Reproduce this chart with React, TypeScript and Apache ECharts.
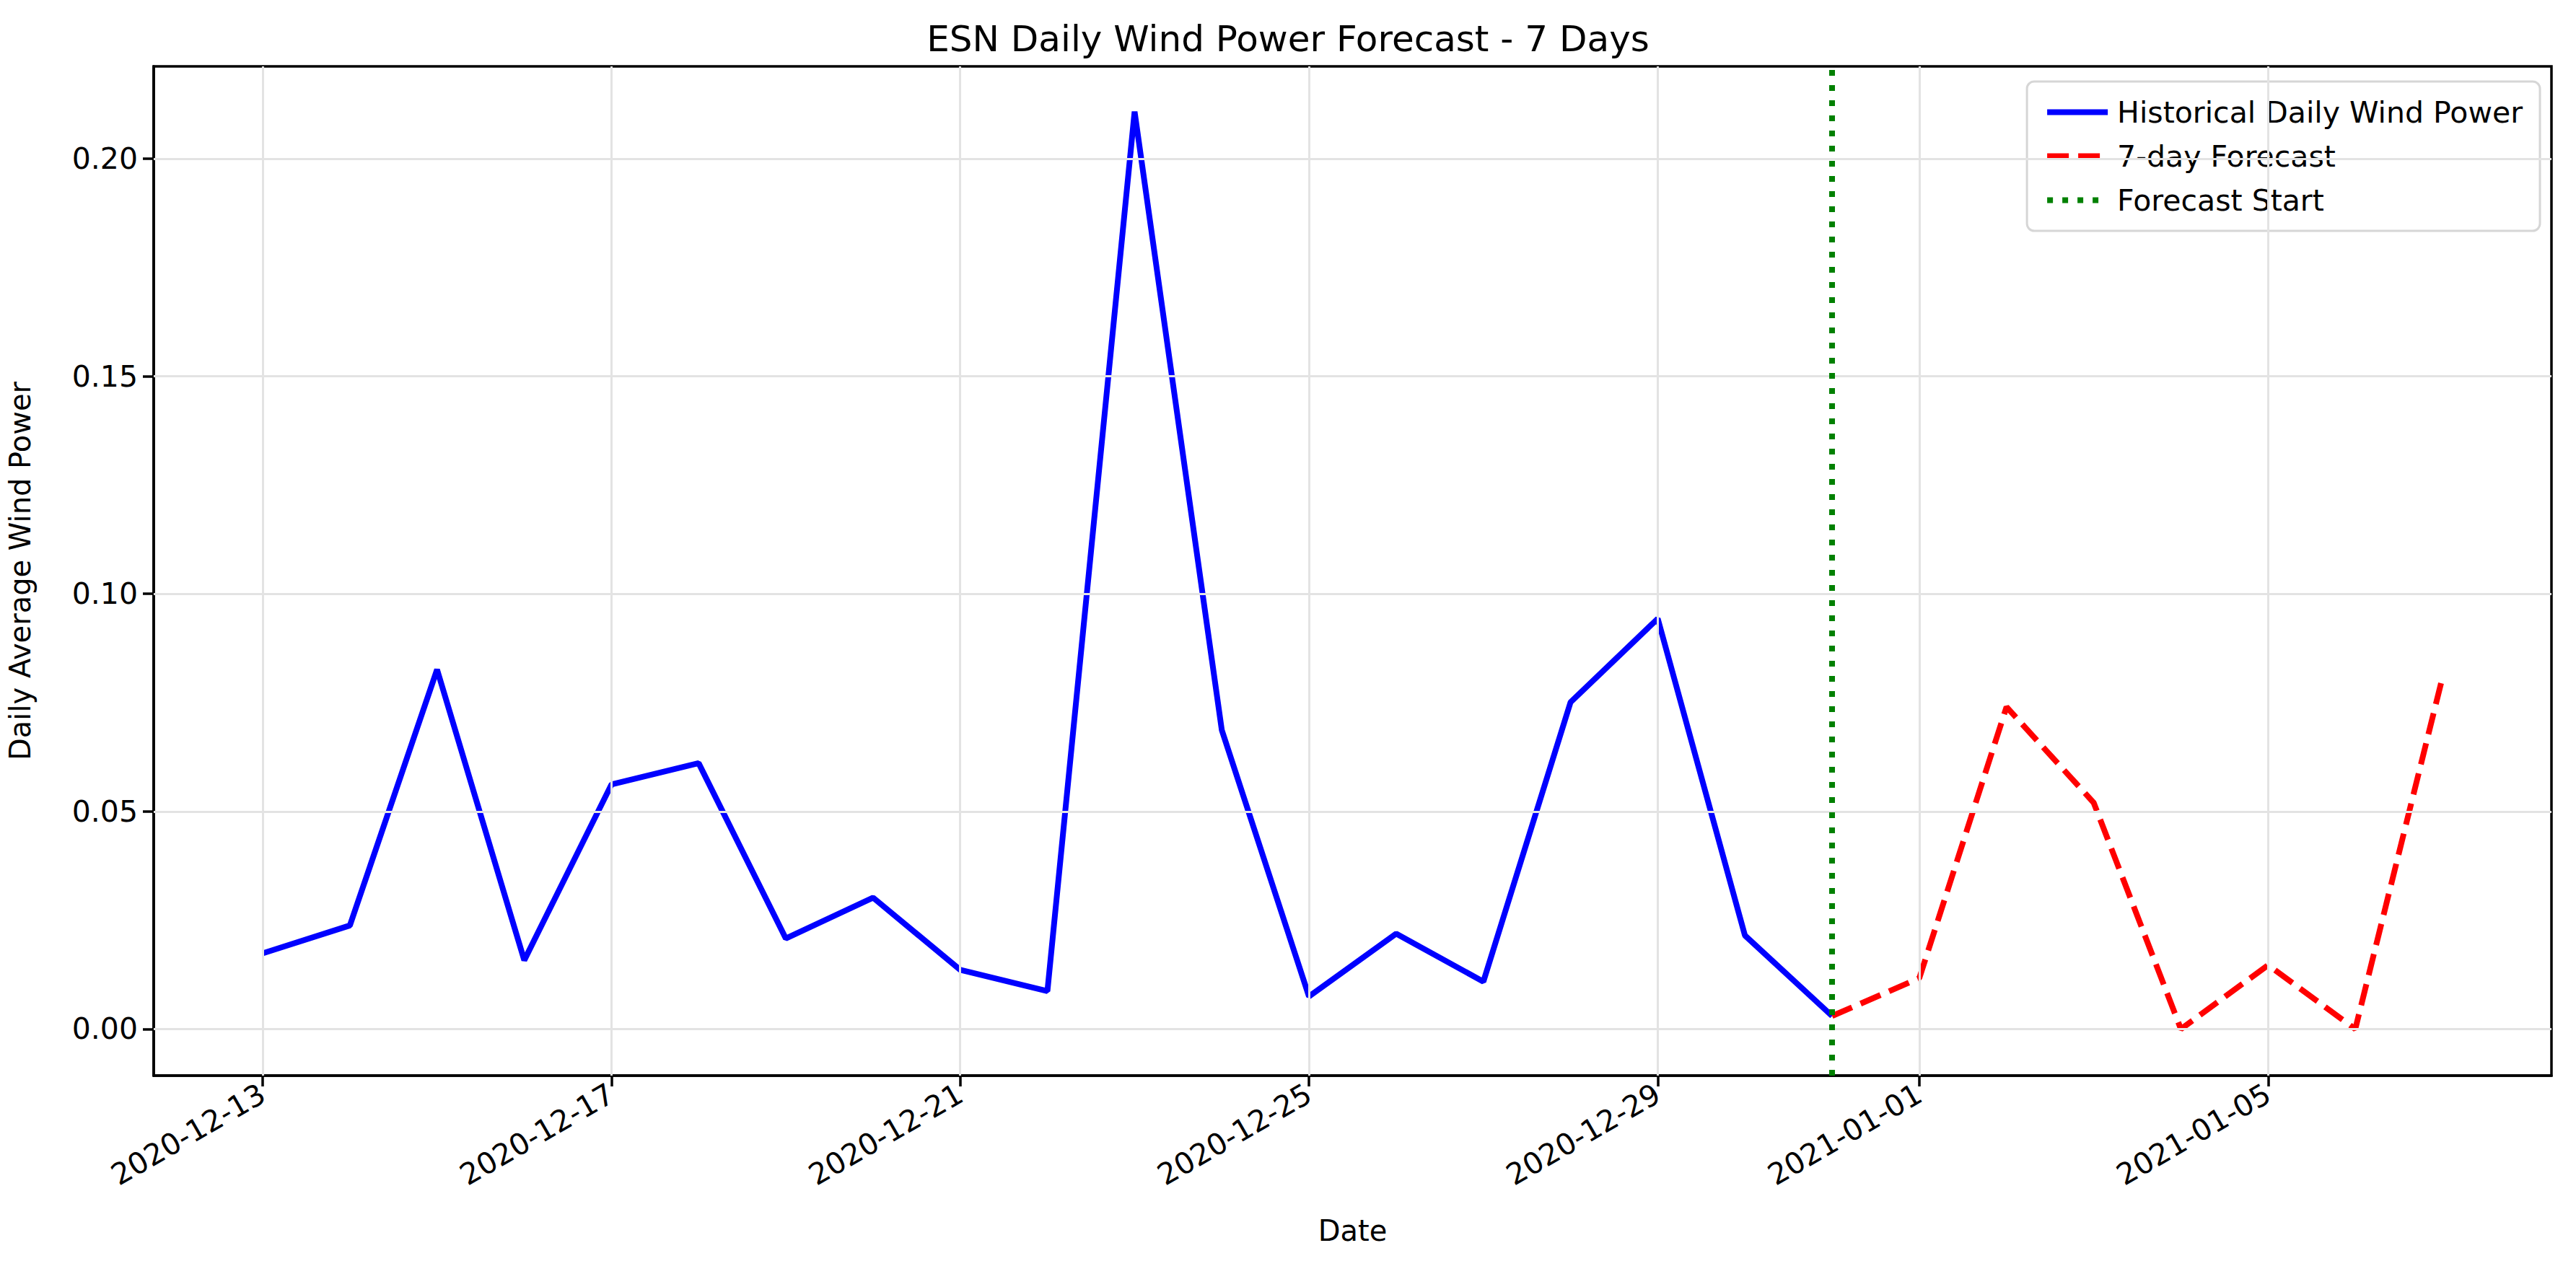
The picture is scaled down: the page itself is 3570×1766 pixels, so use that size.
import React, { useEffect, useRef } from "react";
import * as echarts from "echarts";

const histDates = ["2020-12-13","2020-12-14","2020-12-15","2020-12-16","2020-12-17","2020-12-18","2020-12-19","2020-12-20","2020-12-21","2020-12-22","2020-12-23","2020-12-24","2020-12-25","2020-12-26","2020-12-27","2020-12-28","2020-12-29","2020-12-30","2020-12-31"];
const histValues = [0.0174,0.0238,0.0826,0.0158,0.0562,0.0611,0.0208,0.0302,0.0136,0.0087,0.2108,0.0687,0.0075,0.0219,0.0109,0.0751,0.0943,0.0215,0.0030];
const fcDates = ["2020-12-31","2021-01-01","2021-01-02","2021-01-03","2021-01-04","2021-01-05","2021-01-06","2021-01-07"];
const fcValues = [0.0030,0.0117,0.0740,0.0520,0.0000,0.0147,0.0000,0.0808];
const forecastStart = "2020-12-31";
const xTickDates = ["2020-12-13","2020-12-17","2020-12-21","2020-12-25","2020-12-29","2021-01-01","2021-01-05"];
const yTicks = [0, 0.05, 0.1, 0.15, 0.2];

const BASE = Date.UTC(2020, 11, 13);
const dayIdx = (d: string) => {
  const [y, m, dd] = d.split("-").map(Number);
  return (Date.UTC(y, m - 1, dd) - BASE) / 86400000;
};
const idxLabel = (v: number) => {
  const t = new Date(BASE + Math.round(v) * 86400000);
  const p = (n: number) => String(n).padStart(2, "0");
  return `${t.getUTCFullYear()}-${p(t.getUTCMonth() + 1)}-${p(t.getUTCDate())}`;
};

const FONT = "DejaVu Sans";

export default function App() {
  const ref = useRef<HTMLDivElement>(null);
  useEffect(() => {
    const chart = echarts.init(ref.current!, null, { renderer: "svg" });
    const xTicks = xTickDates.map(dayIdx);
    const gridStyle = { color: "#e3e3e3", width: 3, type: "solid" as const };
    chart.setOption({
      animation: false,
      backgroundColor: "#fff",
      title: {
        text: "ESN Daily Wind Power Forecast - 7 Days",
        left: "center",
        top: 24,
        textStyle: { fontFamily: FONT, fontSize: 50, fontWeight: "normal", color: "#000" },
      },
      grid: { left: 211, right: 34, top: 92, bottom: 275, show: true, borderColor: "#000", borderWidth: 3.5, backgroundColor: "transparent" },
      legend: {
        orient: "vertical",
        right: 50,
        top: 113,
        itemWidth: 84,
        itemHeight: 20,
        itemGap: 20,
        padding: [22, 24, 22, 24],
        borderColor: "#d6d6d6",
        borderWidth: 3,
        borderRadius: 10,
        backgroundColor: "rgba(255,255,255,0.8)",
        itemStyle: { opacity: 0 },
        lineStyle: { width: 8 },
        textStyle: { fontFamily: FONT, fontSize: 41, color: "#000", padding: [0, 0, 0, 8] },
        data: ["Historical Daily Wind Power", "7-day Forecast", "Forecast Start"],
      },
      xAxis: {
        type: "value",
        min: -1.25,
        max: 26.25,
        name: "Date",
        nameLocation: "middle",
        nameGap: 195,
        nameTextStyle: { fontFamily: FONT, fontSize: 40, color: "#000" },
        axisLine: { onZero: false, lineStyle: { color: "#000", width: 3.5 } },
        axisTick: { show: true, customValues: xTicks, length: 15, lineStyle: { color: "#000", width: 3.5 } },
        axisLabel: {
          customValues: xTicks,
          rotate: 30,
          margin: 22,
          fontFamily: FONT,
          fontSize: 41,
          color: "#000",
          formatter: (v: number) => idxLabel(v),
        },
        splitLine: { show: false },
      },
      yAxis: {
        type: "value",
        min: -0.0107,
        max: 0.2212,
        name: "Daily Average Wind Power",
        nameLocation: "middle",
        nameGap: 165,
        nameTextStyle: { fontFamily: FONT, fontSize: 40, color: "#000" },
        axisLine: { show: true, onZero: false, lineStyle: { color: "#000", width: 3.5 } },
        axisTick: { show: true, customValues: yTicks, length: 15, lineStyle: { color: "#000", width: 3.5 } },
        axisLabel: {
          customValues: yTicks,
          margin: 22,
          fontFamily: FONT,
          fontSize: 41,
          color: "#000",
          formatter: (v: number) => v.toFixed(2),
        },
        splitLine: { show: false },
      },
      series: [
        {
          name: "grid",
          type: "line",
          data: [],
          silent: true,
          z: 1,
          markLine: {
            silent: true,
            symbol: "none",
            label: { show: false },
            lineStyle: gridStyle,
            data: [
              ...xTicks.map((x) => ({ xAxis: x })),
              ...yTicks.map((y) => ({ yAxis: y })),
            ],
          },
        },
        {
          name: "Historical Daily Wind Power",
          type: "line",
          showSymbol: false,
          symbol: "none",
          color: "#0000ff",
          lineStyle: { color: "#0000ff", width: 8 },
          data: histDates.map((d, i) => [dayIdx(d), histValues[i]]),
          z: 3,
        },
        {
          name: "7-day Forecast",
          type: "line",
          showSymbol: false,
          symbol: "none",
          color: "#ff0000",
          lineStyle: { color: "#ff0000", width: 8, type: [30, 13] },
          data: fcDates.map((d, i) => [dayIdx(d), fcValues[i]]),
          z: 3,
        },
        {
          name: "Forecast Start",
          type: "line",
          showSymbol: false,
          symbol: "none",
          color: "#008000",
          lineStyle: { color: "#008000", width: 8, type: [8, 13] },
          data: [],
          z: 4,
          markLine: {
            silent: true,
            symbol: "none",
            label: { show: false },
            lineStyle: { color: "#008000", width: 8, type: [8, 13] },
            data: [{ xAxis: dayIdx(forecastStart) }],
          },
        },
      ],
    });
    return () => chart.dispose();
  }, []);
  return (
    <div
      ref={ref}
      style={{ position: "fixed", left: 0, top: 0, width: 3570, height: 1766, background: "#fff" }}
    />
  );
}
